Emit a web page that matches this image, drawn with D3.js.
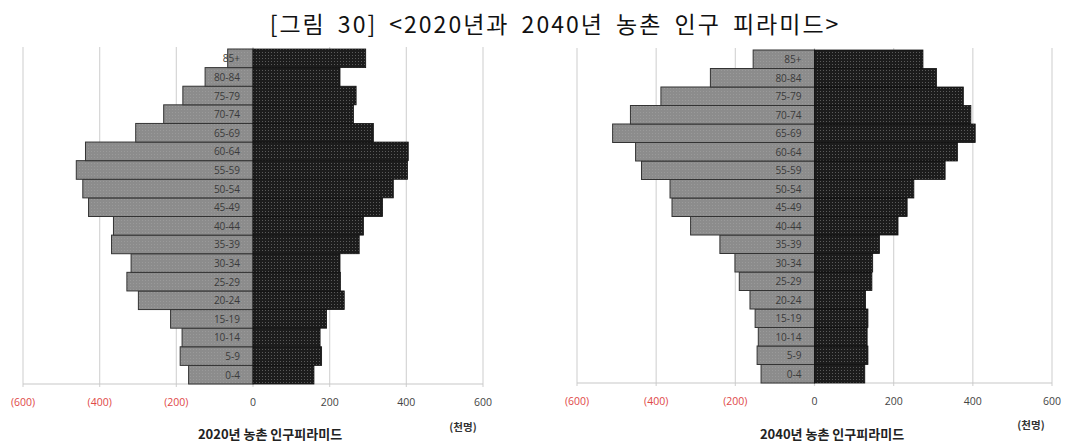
<!DOCTYPE html>
<html><head><meta charset="utf-8">
<script src="https://cdn.jsdelivr.net/npm/d3@7"></script>
<style>
html,body{margin:0;padding:0;background:#fff;}
svg{display:block;}
</style></head>
<body>
<svg id="chart" width="1077" height="444"></svg>
<script>
const ageGroups = ["0-4","5-9","10-14","15-19","20-24","25-29","30-34","35-39","40-44","45-49","50-54","55-59","60-64","65-69","70-74","75-79","80-84","85+"];
const male2020   = [168,190,185,215,299,329,318,369,364,429,444,461,437,306,233,183,125,66];
const female2020 = [159,179,175,192,238,228,227,277,288,338,366,403,405,314,262,269,227,294];
const male2040   = [135,145,142,150,163,190,201,239,313,360,365,437,452,510,465,388,263,155];
const female2040 = [127,135,133,135,129,145,147,164,211,234,251,330,361,406,395,376,308,274];
const tickValues = [-600,-400,-200,0,200,400,600];
const tickLabels = ["(600)","(400)","(200)","0","200","400","600"];
const titleText = "[그림 30] <2020년과 2040년 농촌 인구 피라미드>";
const subtitles = ["2020년 농촌 인구피라미드","2040년 농촌 인구피라미드"];
const unitText = "(천명)";

const svg = d3.select("#chart");
const defs = svg.append("defs");
const pd = defs.append("pattern").attr("id","dots").attr("width",3).attr("height",3).attr("patternUnits","userSpaceOnUse");
pd.append("rect").attr("width",3).attr("height",3).attr("fill","#1c1c1c");
pd.append("rect").attr("x",1).attr("y",1).attr("width",1).attr("height",1).attr("fill","#5a5a5a");
const pg = defs.append("pattern").attr("id","greydots").attr("width",3).attr("height",3).attr("patternUnits","userSpaceOnUse");
pg.append("rect").attr("width",3).attr("height",3).attr("fill","#8c8c8c");
pg.append("rect").attr("x",1).attr("y",1).attr("width",1).attr("height",1).attr("fill","#9a9a9a");

svg.append("text").attr("x",555).attr("y",33).attr("text-anchor","middle")
  .attr("font-family","'Noto Sans CJK KR', sans-serif").attr("font-size",23)
  .attr("word-spacing",5).attr("letter-spacing",2)
  .attr("fill","#111").text(titleText);

function pyramid(cfg){
  const x = d3.scaleLinear().domain([-600,600]).range(cfg.xr);
  const y = d3.scaleBand().domain(ageGroups.slice().reverse()).range(cfg.yr).padding(0);
  const g = svg.append("g");
  g.selectAll("line.grid").data(tickValues).join("line")
    .attr("x1",d=>x(d)).attr("x2",d=>x(d)).attr("y1",cfg.yr[0]-2).attr("y2",cfg.yr[1]+3)
    .attr("stroke","#d6d6d6").attr("stroke-width",1.2);
  g.append("line").attr("x1",x(-600)).attr("x2",x(600)).attr("y1",cfg.yr[1]).attr("y2",cfg.yr[1])
    .attr("stroke","#c8c8c8").attr("stroke-width",1.2);
  g.selectAll("rect.m").data(ageGroups).join("rect")
    .attr("x",(d,i)=>x(-cfg.male[i])).attr("width",(d,i)=>x(0)-x(-cfg.male[i]))
    .attr("y",d=>y(d)).attr("height",y.bandwidth())
    .attr("fill","url(#greydots)").attr("stroke","#333").attr("stroke-width",1);
  g.selectAll("rect.f").data(ageGroups).join("rect")
    .attr("x",x(0)).attr("width",(d,i)=>x(cfg.female[i])-x(0))
    .attr("y",d=>y(d)).attr("height",y.bandwidth())
    .attr("fill","url(#dots)").attr("stroke","#111").attr("stroke-width",0.8);
  g.selectAll("text.age").data(ageGroups).join("text")
    .attr("x",x(0)-13).attr("y",d=>y(d)+y.bandwidth()/2+4)
    .attr("text-anchor","end").attr("font-family","'Open Sans', sans-serif").attr("font-size",10)
    .attr("fill","#3a3a3a").text(d=>d);
  g.selectAll("text.tick").data(tickValues).join("text")
    .attr("x",d=>x(d)).attr("y",cfg.yr[1]+22).attr("text-anchor","middle")
    .attr("font-family","'Open Sans', sans-serif").attr("font-size",10.5)
    .attr("fill",(d)=>d<0?"#e04848":"#444").text((d,i)=>tickLabels[i]);
  g.append("text").attr("x",cfg.subX).attr("y",cfg.subY).attr("text-anchor","middle")
    .attr("font-family","'Noto Sans CJK KR', sans-serif").attr("font-weight","bold").attr("font-size",13)
    .attr("fill","#222").text(cfg.sub);
  g.append("text").attr("x",cfg.unitX).attr("y",cfg.unitY).attr("text-anchor","middle")
    .attr("font-family","'Noto Sans CJK KR', sans-serif").attr("font-weight","bold").attr("font-size",10.5)
    .attr("fill","#333").text(unitText);
}

pyramid({xr:[23,483], yr:[49,384], male:male2020, female:female2020, sub:subtitles[0], subX:270, subY:439, unitX:463, unitY:431});
pyramid({xr:[577,1052], yr:[50,383], male:male2040, female:female2040, sub:subtitles[1], subX:832, subY:439, unitX:1031, unitY:429});
</script>
</body></html>
